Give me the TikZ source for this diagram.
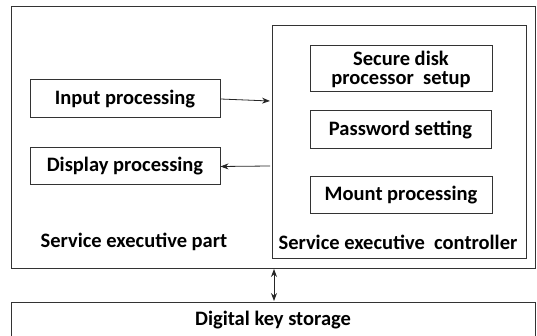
\documentclass[tikz,border=0pt]{standalone}
\usepackage{fontspec}
\setmainfont{Carlito}
\usetikzlibrary{arrows.meta}
\begin{document}
\begin{tikzpicture}[x=1pt,y=-1pt,
  box/.style={draw=black!80,line width=1pt},
  lbl/.style={font=\bfseries\fontsize{20.5}{24}\selectfont,inner sep=0pt},
  conn/.style={draw=black!85,line width=0.8pt,-{Stealth[length=8pt,width=6pt]}}]
\useasboundingbox (0,0) rectangle (537,336);
% outer box
\draw[box] (11,7) rectangle (535,268);
\draw[box] (272,26) rectangle (526,258);
% left boxes
\node[box,minimum width=190pt,minimum height=38pt,inner sep=0pt,lbl] (inp) at (125,99) {Input processing};
\node[box,minimum width=190pt,minimum height=37pt,inner sep=0pt,lbl] (disp) at (125,166.5) {Display processing};
% right boxes
\node[box,minimum width=182pt,minimum height=46pt,inner sep=0pt,lbl,align=center] (sec) at (401,69) {Secure disk\\[-5pt]processor\ \ setup};
\node[box,minimum width=181pt,minimum height=38pt,inner sep=0pt,lbl] (pwd) at (400.5,130) {Password setting};
\node[box,minimum width=182pt,minimum height=37pt,inner sep=0pt,lbl] (mnt) at (401,195.5) {Mount processing};
% labels
\node[lbl] (sep) at (134,242) {Service executive part};
\node[lbl] (sec2) at (398,242) {Service executive\ \ controller};
% bottom
\draw[box] (11,302) rectangle (535,340);
\node[lbl] (dks) at (273,320) {Digital key storage};
% connectors
\coordinate (c1) at (270,101);
\coordinate (c2) at (270,166);
\draw[conn] (inp.east) -- (c1);
\draw[conn] (c2) -- (disp.east);
\coordinate (v1) at (274,269);
\coordinate (v2) at (274,301);
\draw[conn,{Stealth[length=8pt,width=6pt]}-{Stealth[length=8pt,width=6pt]}] (v1) -- (v2);
\end{tikzpicture}
\end{document}
